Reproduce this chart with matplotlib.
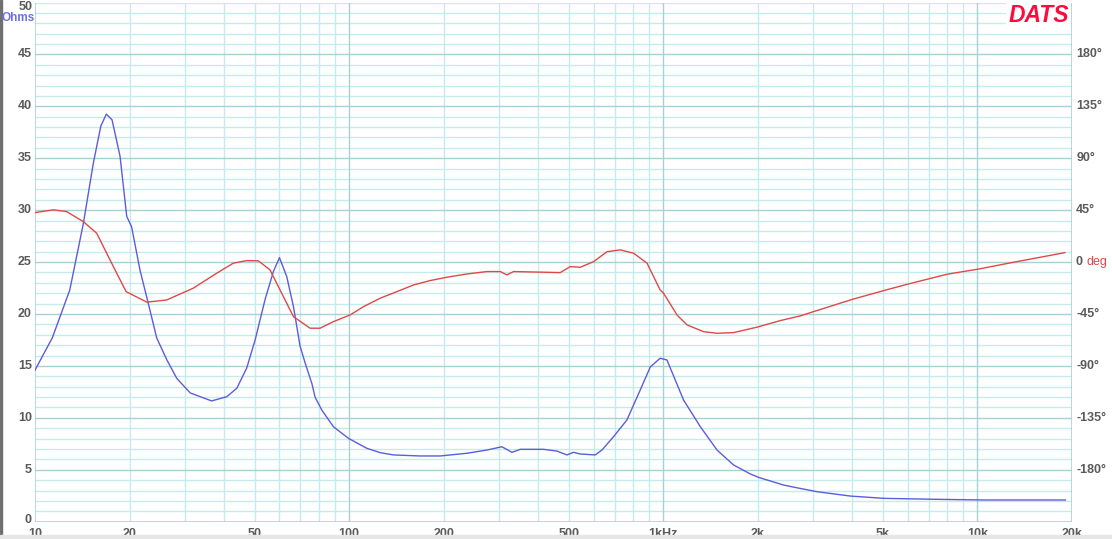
import matplotlib
matplotlib.use("Agg")
import matplotlib.pyplot as plt
import matplotlib.transforms as mtransforms
from matplotlib.patches import Rectangle
import numpy as np

# ---------------- data ----------------
imp_freq = [10, 11.35, 12.9, 14.25, 15.33, 16.2, 16.87, 17.59, 18.65, 19.59, 20.3, 21.6, 22.95,
            24.4, 26.27, 28.27, 31.2, 36.5, 40.8, 43.9, 47.2, 50.2, 54.0, 57.4, 60.0, 63.3, 66.5,
            69.8, 72.4, 76.1, 77.9, 81.8, 89.1, 99.5, 113.8, 125.5, 138.4, 168.3, 194.9, 237, 274.6,
            306.4, 329.8, 350.6, 416, 458.6, 493.5, 517.8, 544, 607, 637.8, 694.7, 766, 845, 909,
            977, 1027, 1132, 1161, 1312, 1483, 1674, 1892, 2010, 2415, 2731, 3086, 3936, 5032,
            7263, 10470, 19055]
imp_ohm = [14.6, 17.7, 22.3, 28.7, 34.5, 38.1, 39.25, 38.7, 35.2, 29.4, 28.4, 24.2, 21.0,
           17.7, 15.6, 13.8, 12.4, 11.63, 12.04, 12.85, 14.8, 17.5, 21.4, 24.1, 25.43, 23.6, 20.7,
           16.9, 15.3, 13.3, 12.0, 10.76, 9.15, 8.03, 7.07, 6.65, 6.43, 6.33, 6.33, 6.59, 6.9,
           7.22, 6.68, 6.97, 6.97, 6.8, 6.43, 6.68, 6.52, 6.43, 6.9, 8.19, 9.8, 12.7, 14.9,
           15.74, 15.58, 12.5, 11.7, 9.15, 6.9, 5.46, 4.6, 4.27, 3.53, 3.2, 2.89, 2.47, 2.25,
           2.16, 2.09, 2.09]

ph_freq = [10, 11.44, 12.6, 14.25, 15.72, 17.76, 19.5, 22.7, 26.27, 31.9, 37.9, 42.8, 47.2,
           51.4, 56.0, 60.3, 66.5, 75.1, 80.8, 89.1, 100.7, 111.1, 125.5, 141.9, 160.3, 181.1,
           204.7, 237, 274.6, 302.7, 317.8, 333.7, 469.9, 505.6, 544, 600, 662, 729.6, 804.4,
           887.5, 977, 1002, 1106, 1132, 1190, 1343, 1483, 1674, 1988, 2358, 2731, 3010, 4008,
           5030, 6040, 8010, 10050, 13050, 18970]
ph_deg = [42.9, 45.3, 43.8, 35.1, 25, -3.9, -25.6, -34.7, -32.8, -22.6, -9.6, -0.9, 1.3,
          1.1, -6.8, -24.3, -47.3, -57.3, -57.3, -51.6, -45.8, -38.6, -31.3, -25.6, -19.8, -16.0,
          -13.1, -10.3, -8.2, -8.2, -11.1, -8.2, -9.1, -3.9, -4.5, 0.4, 9, 10.6, 7.7,
          -0.9, -24.1, -27, -45.8, -48.6, -54.4, -60.3, -61.7, -61.1, -56.4, -50.7, -46.6, -42.9,
          -32.2, -24.7, -18.9, -10.5, -6.1, -0.1, 8.2]

x_ticks = [10, 20, 50, 100, 200, 500, 1000, 2000, 5000, 10000, 20000]
x_labels = ["10", "20", "50", "100", "200", "500", "1kHz", "2k", "5k", "10k", "20k"]
y_ticks = [0, 5, 10, 15, 20, 25, 30, 35, 40, 45, 50]
deg_ticks = [180, 135, 90, 45, 0, -45, -90, -135, -180]

# ---------------- style ----------------
W, H = 1112, 539
fig = plt.figure(figsize=(W / 100, H / 100), dpi=100)
fig.patch.set_facecolor("white")

left_px, right_px, top_px, bot_px = 35, 1072, 2.5, 521.7
ax = fig.add_axes([left_px / W, (H - bot_px) / H, (right_px - left_px) / W, (bot_px - top_px) / H])
ax.set_xscale("log")
ax.set_xlim(10, 20000)
ax.set_ylim(0, 50)

minor_c = "#c4ecec"
major_c = "#a8d2d2"
lab_c = "#5a5a5a"
blue = "#5c5cdc"
red = "#e04848"

# grid
for dec in [10, 100, 1000, 10000]:
    for m in range(2, 10):
        f = dec * m
        if f < 20000:
            ax.axvline(f, color=minor_c, lw=1.0, zorder=0)
for dec in [100, 1000, 10000]:
    ax.axvline(dec, color=major_c, lw=1.0, zorder=0.5)
for v in range(1, 50):
    ax.axhline(v, color=major_c if v % 5 == 0 else minor_c, lw=1.0, zorder=0 if v % 5 else 0.5)
ax.axhline(50, color=minor_c, lw=1.0, zorder=0)

for s in ax.spines.values():
    s.set_visible(False)
ax.axvline(10, color=major_c, lw=1.2, zorder=0.6)
ax.axvline(20000, color=major_c, lw=1.2, zorder=0.6)
ax.axhline(0, color=major_c, lw=1.2, zorder=0.6)
ax.set_xticks([])
ax.set_yticks([])
ax.minorticks_off()

# curves
ax.plot(imp_freq, imp_ohm, color=blue, lw=1.0, zorder=3)
ax2 = ax.twinx()
ax2.set_ylim(-225, 225)
ax2.set_yticks([])
for s in ax2.spines.values():
    s.set_visible(False)
ax2.plot(ph_freq, ph_deg, color=red, lw=1.0, zorder=3)

font = dict(family="Liberation Sans", weight="bold", size=9)

# left labels
trL = mtransforms.blended_transform_factory(ax.transAxes, ax.transData)
for v in y_ticks:
    if v == 50:
        fig.text(33 / W, 1 - 7.5 / H, "50", ha="right", va="center", color=lab_c, **font)
        continue
    yy = v
    va = "center"
    if v == 0:
        va = "bottom"
        yy = -0.4
    ax.text(-0.003, yy, str(v), transform=trL, ha="right", va=va, color=lab_c, **font)
fig.text(2 / W, 1 - 18 / H, "Ohms", ha="left", va="center", color="#6e6ee6",
         family="Liberation Sans", weight="bold", size=8.5)

# bottom labels
trB = mtransforms.blended_transform_factory(ax.transData, ax.transAxes)
for f, l in zip(x_ticks, x_labels):
    ax.text(f, -0.012, l, transform=trB, ha="center", va="top", color=lab_c, clip_on=False, **font)

# right labels
trR = mtransforms.blended_transform_factory(ax2.transAxes, ax2.transData)
for d in deg_ticks:
    if d == 0:
        t = ax2.text(1.004, 0, "0 ", transform=trR, ha="left", va="center", color=lab_c, **font)
        fig.canvas.draw()
        ax2.annotate("deg", xycoords=t, xy=(1, 0.5), va="center", ha="left",
                     color=red, family="Liberation Sans", size=9)
    else:
        ax2.text(1.004, d, f"{d}\u00b0", transform=trR, ha="left", va="center", color=lab_c, **font)

# DATS logo
fig.text(1069 / W, 1 - 15 / H, "DATS", ha="right", va="center", color="#ff0a3c",
         family="Liberation Sans", weight="bold", style="italic", size=16.5,
         bbox=dict(facecolor="white", edgecolor="none", pad=1.5), zorder=10)

# window borders
fig.patches.append(Rectangle((0, 0), 2 / W, 1, transform=fig.transFigure, color="#707070", zorder=0))
fig.patches.append(Rectangle((0, 0), 1, 4 / H, transform=fig.transFigure, color="#e6e6e6", zorder=0))

fig.savefig("out.png", dpi=100, facecolor="white")
